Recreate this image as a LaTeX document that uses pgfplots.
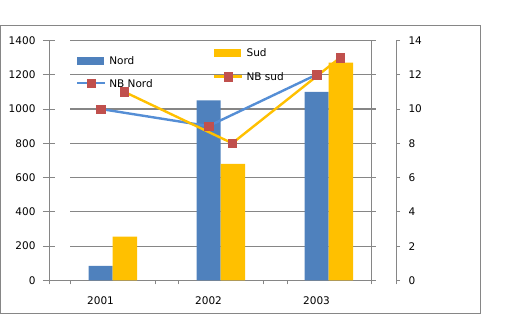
\documentclass[border=0pt]{standalone}
\usepackage{fontspec}
\setmainfont{DejaVu Sans}
\usepackage{pgfplots}
\pgfplotsset{compat=1.18}
\definecolor{nordblue}{RGB}{79,129,189}
\definecolor{sudyellow}{RGB}{255,192,0}
\definecolor{nbnord}{RGB}{85,142,213}
\definecolor{markred}{RGB}{192,80,77}
\definecolor{axgray}{RGB}{134,134,134}
\pgfplotsset{
  linelegend/.style={legend image code/.code={\draw[mark repeat=2,mark phase=2,##1] plot coordinates {(0pt,0pt) (14pt,0pt) (28pt,0pt)};}},
  nordbarlegend/.style={legend image code/.code={\fill[nordblue] (0pt,-3.5pt) rectangle (26pt,3.5pt);}},
  sudbarlegend/.style={legend image code/.code={\fill[sudyellow] (0pt,-3.5pt) rectangle (26pt,3.5pt);}},
  nbnordstyle/.style={color=nbnord, line width=2.4pt, mark=square*, mark size=4.2pt, mark options={solid, fill=markred, draw=markred, line width=0.4pt}},
  nbsudstyle/.style={color=sudyellow, line width=2.4pt, mark=square*, mark size=4.2pt, mark options={solid, fill=markred, draw=markred, line width=0.4pt}},
  mylegend/.style={legend cell align=left, legend style={draw=none, fill=none, inner sep=0pt, column sep=3pt,
     nodes={inner sep=0pt, text height=7.7pt, text depth=0pt}, font=\fontsize{10.5}{12}\selectfont}},
}
\begin{document}
\begin{tikzpicture}
\path[use as bounding box] (0,0) rectangle (531pt,326pt);
\draw[axgray, line width=1pt] (0.5pt,12pt) rectangle (480pt,300pt);
\begin{axis}[
  at={(49pt,45.6pt)}, anchor=south west,
  scale only axis, width=322.7pt, height=240pt,
  xmin=-0.477, xmax=2.511, ymin=0, ymax=1400,
  clip=false,
  axis x line*=bottom, axis y line*=left,
  axis line style={-, axgray, line width=0.8pt},
  ytick={0,200,...,1400}, tick align=center, major tick length=12pt,
  every tick/.style={axgray, line width=0.8pt},
  xtick={0,1,2}, xticklabels={2001,2002,2003}, xtick style={draw=none},
  tick label style={font=\fontsize{10.5}{12}\selectfont, black},
  /pgf/number format/assume math mode=true,
  /pgf/number format/1000 sep={},
  yticklabel style={xshift=-4pt},
  xticklabel style={yshift=-6.5pt},
  mylegend,
  legend style={at={(0.0827,0.934)}, anchor=north west, row sep=14.95pt},
]
\pgfplotsinvokeforeach{0,200,400,600,800,1000,1200,1400}{
  \draw[axgray, line width=1.1pt] (axis cs:-0.282,#1) -- (axis cs:2.551,#1);
}
\draw[axgray, line width=0.8pt] (axis cs:2.511,0) -- (axis cs:2.511,1400);
\addplot[ybar, bar width=0.222, bar shift=0, fill=nordblue, draw=none, forget plot]
  coordinates {(0,85) (1,1050) (2,1100)};
\addplot[ybar, bar width=0.228, bar shift=0.225, fill=sudyellow, draw=none, forget plot]
  coordinates {(0,255) (1,680) (2,1270)};
\addlegendimage{nordbarlegend}
\addlegendentry{Nord}
\addlegendimage{nbnordstyle, linelegend}
\addlegendentry{NB Nord}
\end{axis}
\begin{axis}[
  at={(49pt,45.6pt)}, anchor=south west,
  scale only axis, width=347pt, height=240pt,
  xmin=-0.477, xmax=2.736, ymin=0, ymax=14,
  clip=false,
  axis x line*=bottom, axis y line*=right,
  x axis line style={draw=none},
  y axis line style={-, axgray, line width=0.8pt},
  xtick={-0.477,-0.282,0.507,0.720,1.507,1.730,2.511,2.736}, xticklabels={},
  ytick={0,2,...,14}, tick align=outside, major tick length=4pt,
  every tick/.style={axgray, line width=0.8pt},
  tick label style={font=\fontsize{10.5}{12}\selectfont, black},
  /pgf/number format/assume math mode=true,
  yticklabel style={xshift=5pt},
  mylegend,
  legend style={at={(0.4726,0.9648)}, anchor=north west, row sep=15.65pt},
]
\addplot[nbnordstyle, forget plot] coordinates {(0,10) (1,9) (2,12)};
\addplot[nbsudstyle, forget plot, x filter/.expression={x+0.22}] coordinates {(0,11) (1,8) (2,13)};
\addlegendimage{sudbarlegend}
\addlegendentry{Sud}
\addlegendimage{nbsudstyle, linelegend}
\addlegendentry{NB sud}
\end{axis}
\end{tikzpicture}
\end{document}
